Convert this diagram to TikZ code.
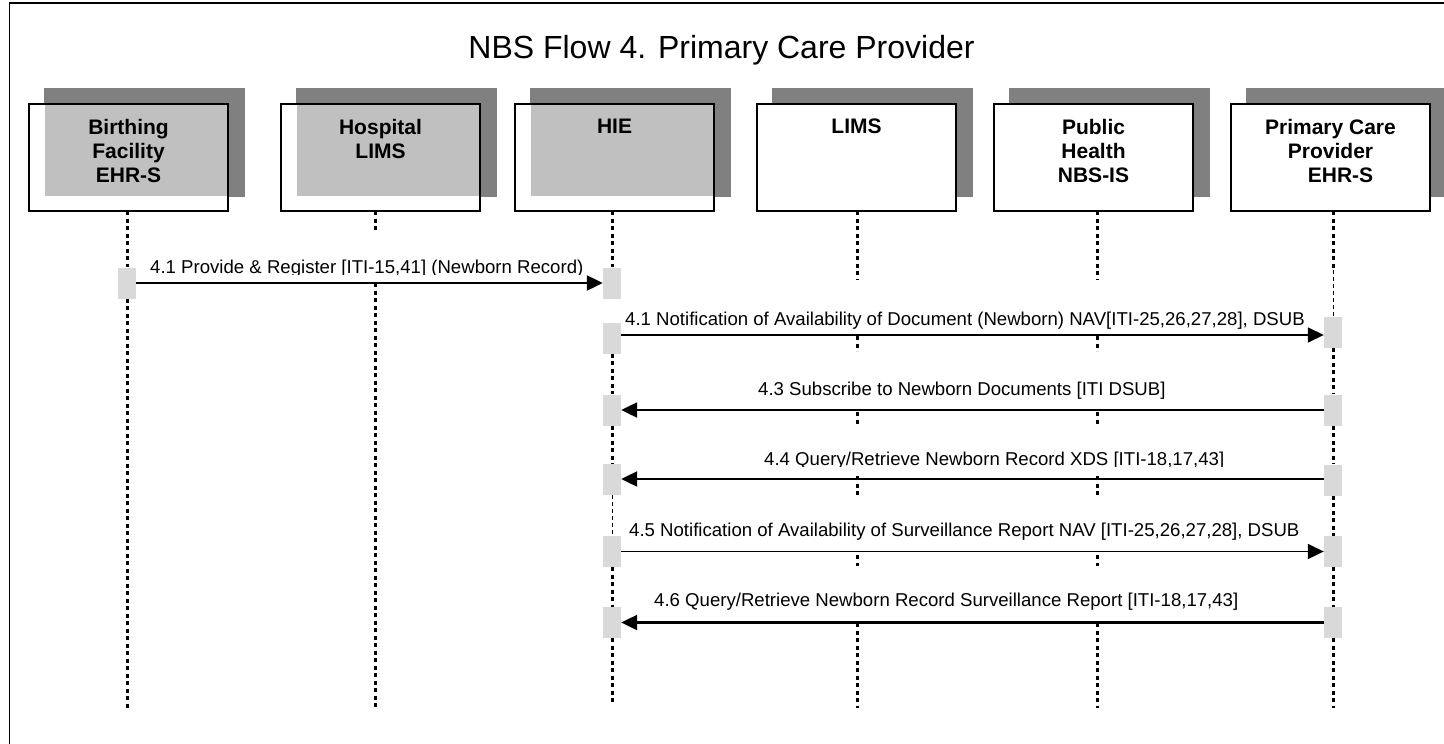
\documentclass[tikz,border=0pt]{standalone}
\usepackage{fontspec}
\setmainfont{Liberation Sans}
\usetikzlibrary{arrows.meta,backgrounds}

\definecolor{shadowgrey}{RGB}{128,128,128}
\definecolor{tintgrey}{RGB}{192,192,192}
\definecolor{bargrey}{RGB}{217,217,217}

% one dotted lifeline piece at a given x between two y values
\newcommand\lifepiece[3]{\draw[life] (#1,#2) -- (#1,#3);}

\begin{document}
\begin{tikzpicture}[x=1pt,y=-1pt,
  actor/.style={draw=black, line width=1.8pt, fill=white, minimum width=199pt,
                minimum height=107pt, inner sep=0pt},
  tinted/.style={path picture={\fill[tintgrey]
      ([xshift=16pt]path picture bounding box.north west) rectangle
      ([yshift=15pt]path picture bounding box.south east);}},
  actortext/.style={anchor=north, inner sep=0pt, align=center,
                    font=\fontsize{21pt}{24pt}\selectfont\bfseries},
  actbar/.style={fill=bargrey, minimum width=18pt, minimum height=31pt, inner sep=0pt},
  life/.style={line width=3pt, dash pattern=on 4pt off 3.5pt},
  lifethin/.style={line width=1pt, dash pattern=on 4pt off 3pt},
  msg/.style={line width=2.2pt, -{Triangle[length=16pt,width=15pt]}},
  msglight/.style={msg, line width=1.6pt},
  msglabel/.style={anchor=base west, inner sep=0pt, font=\fontsize{18.6pt}{22pt}\selectfont},
  frame/.style={line width=1.5pt}]
\useasboundingbox (0,0) rectangle (1444,744);

% outer frame
\draw[frame] (1444,3) -- (9.5,3) -- (9.5,744);

% title
\node[anchor=base, inner sep=0pt, font=\fontsize{32pt}{38pt}\selectfont] (title)
  at (721.5,58.5) {NBS Flow 4. Primary Care Provider};

% participants
\node[actor,tinted] (bf)   at (128.5,157.5)  {};
\node[actor,tinted] (hl)   at (380.5,157.5)  {};
\node[actor,tinted] (hie)  at (614.5,157.5)  {};
\node[actor]        (lims) at (856.5,157.5)  {};
\node[actor]        (ph)   at (1093.5,157.5) {};
\node[actor]        (pcp)  at (1330.5,157.5) {};

\begin{scope}[on background layer]
  \foreach \n in {bf,hl,hie,lims,ph,pcp}
    \fill[shadowgrey] ([shift={(16pt,15pt)}]\n.south west) rectangle ([shift={(16pt,15pt)}]\n.north east);
\end{scope}

\node[actortext] (bf-txt)   at ([yshift=-15.5pt]bf.north)   {Birthing\\Facility\\EHR-S};
\node[actortext] (hl-txt)   at ([yshift=-15.5pt]hl.north)   {Hospital\\LIMS};
\node[actortext] (hie-txt)  at ([yshift=-15.5pt]hie.north)  {HIE};
\node[actortext] (lims-txt) at ([yshift=-15.5pt]lims.north) {LIMS};
\node[actortext] (ph-txt)   at ([yshift=-15.5pt]ph.north)   {Public\\Health\\NBS-IS};
\node[actortext] (pcp-txt)  at ([yshift=-15.5pt]pcp.north)  {Primary Care\\Provider\\\hspace*{20pt}EHR-S};

% activation bars
\node[actbar] (bf1)  at (127,283)   {};
\node[actbar] (hie1) at (612,283)   {};
\node[actbar] (hie2) at (612,338)   {};
\node[actbar] (pcp2) at (1333,332)  {};
\node[actbar] (hie3) at (612,410)   {};
\node[actbar] (pcp3) at (1333,410)  {};
\node[actbar] (hie4) at (612,479)   {};
\node[actbar] (pcp4) at (1333,480)  {};
\node[actbar] (hie5) at (612,551.5) {};
\node[actbar] (pcp5) at (1333,551.5){};
\node[actbar] (hie6) at (612,622.5) {};
\node[actbar] (pcp6) at (1333,622.5){};

% lifeline tops and ends
\coordinate (bf-top)   at (127,211);  \coordinate (bf-end)   at (127,708);
\coordinate (hl-top)   at (375,211);  \coordinate (hl-end)   at (375,708);
\coordinate (hie-top)  at (612,211);  \coordinate (hie-end)  at (612,705);
\coordinate (lims-top) at (857,211);  \coordinate (lims-end) at (857,708);
\coordinate (ph-top)   at (1097,211); \coordinate (ph-end)   at (1097,708);
\coordinate (pcp-top)  at (1333,211); \coordinate (pcp-end)  at (1333,708);
\coordinate (pcp-mid)  at (1333,270);

% lifelines
\begin{scope}[on background layer]
\draw[life] (bf-top) -- (bf1.north);
\draw[life] (bf1.south) -- (bf-end);

\draw[life] (hl-top) -- ++(0,19);
\draw[life] (375,283) -- (hl-end);

\draw[life] (hie-top) -- (hie1.north);
\draw[life] (hie2.south) -- (hie3.north);
\draw[life] (hie3.south) -- (hie4.north);
\draw[lifethin] (hie4.south) -- (hie5.north);
\draw[life] (hie5.south) -- (hie6.north);
\draw[life] (hie6.south) -- (hie-end);

\draw[life] (lims-top) -- (857,279);
\lifepiece{857}{336}{351}
\lifepiece{857}{412}{425}
\lifepiece{857}{476}{495}
\lifepiece{857}{555}{566}
\draw[life] (857,623) -- (lims-end);

\draw[life] (ph-top) -- (1097,279);
\lifepiece{1097}{336}{351}
\lifepiece{1097}{412}{425}
\lifepiece{1097}{476}{495}
\lifepiece{1097}{555}{566}
\draw[life] (1097,623) -- (ph-end);

\draw[life] (pcp-top) -- (pcp-mid);
\draw[lifethin] (pcp-mid) -- (pcp2.north);
\draw[life] (pcp2.south) -- (pcp3.north);
\draw[life] (pcp3.south) -- (pcp4.north);
\draw[life] (pcp4.south) -- (pcp5.north);
\draw[life] (pcp5.south) -- (pcp6.north);
\draw[life] (pcp6.south) -- (pcp-end);
\end{scope}

% messages
\coordinate (m2) at (0,335);
\draw[msg]      (bf1.east) -- (hie1.west);
\draw[msglight] (hie2.east |- m2) -- (pcp2.west |- m2);
\draw[msg]      (pcp3.west) -- (hie3.east);
\draw[msg]      (pcp4.west |- hie4.east) -- (hie4.east);
\draw[msglight] (hie5.east) -- (pcp5.west);
\draw[msg]      (pcp6.west) -- (hie6.east);

% message labels
\begin{scope}
  \clip (0,0) rectangle (1444,274.5);
  \node[msglabel] (l1) at (150,273.5) {4.1 Provide \& Register [ITI-15,41] (Newborn Record)};
\end{scope}
\node[msglabel] (l2) at (625,325) {4.1 Notification of Availability of Document (Newborn) NAV[ITI-25,26,27,28], DSUB};
\node[msglabel] (l3) at (758,395.5) {4.3 Subscribe to Newborn Documents [ITI DSUB]};
\begin{scope}
  \clip (0,0) rectangle (1444,466.5);
  \node[msglabel] (l4) at (764,465.5) {4.4 Query/Retrieve Newborn Record XDS [ITI-18,17,43]};
\end{scope}
\node[msglabel] (l5) at (629,536) {4.5 Notification of Availability of Surveillance Report NAV [ITI-25,26,27,28], DSUB};
\node[msglabel] (l6) at (654,606.7) {4.6 Query/Retrieve Newborn Record Surveillance Report [ITI-18,17,43]};
\end{tikzpicture}
\end{document}
